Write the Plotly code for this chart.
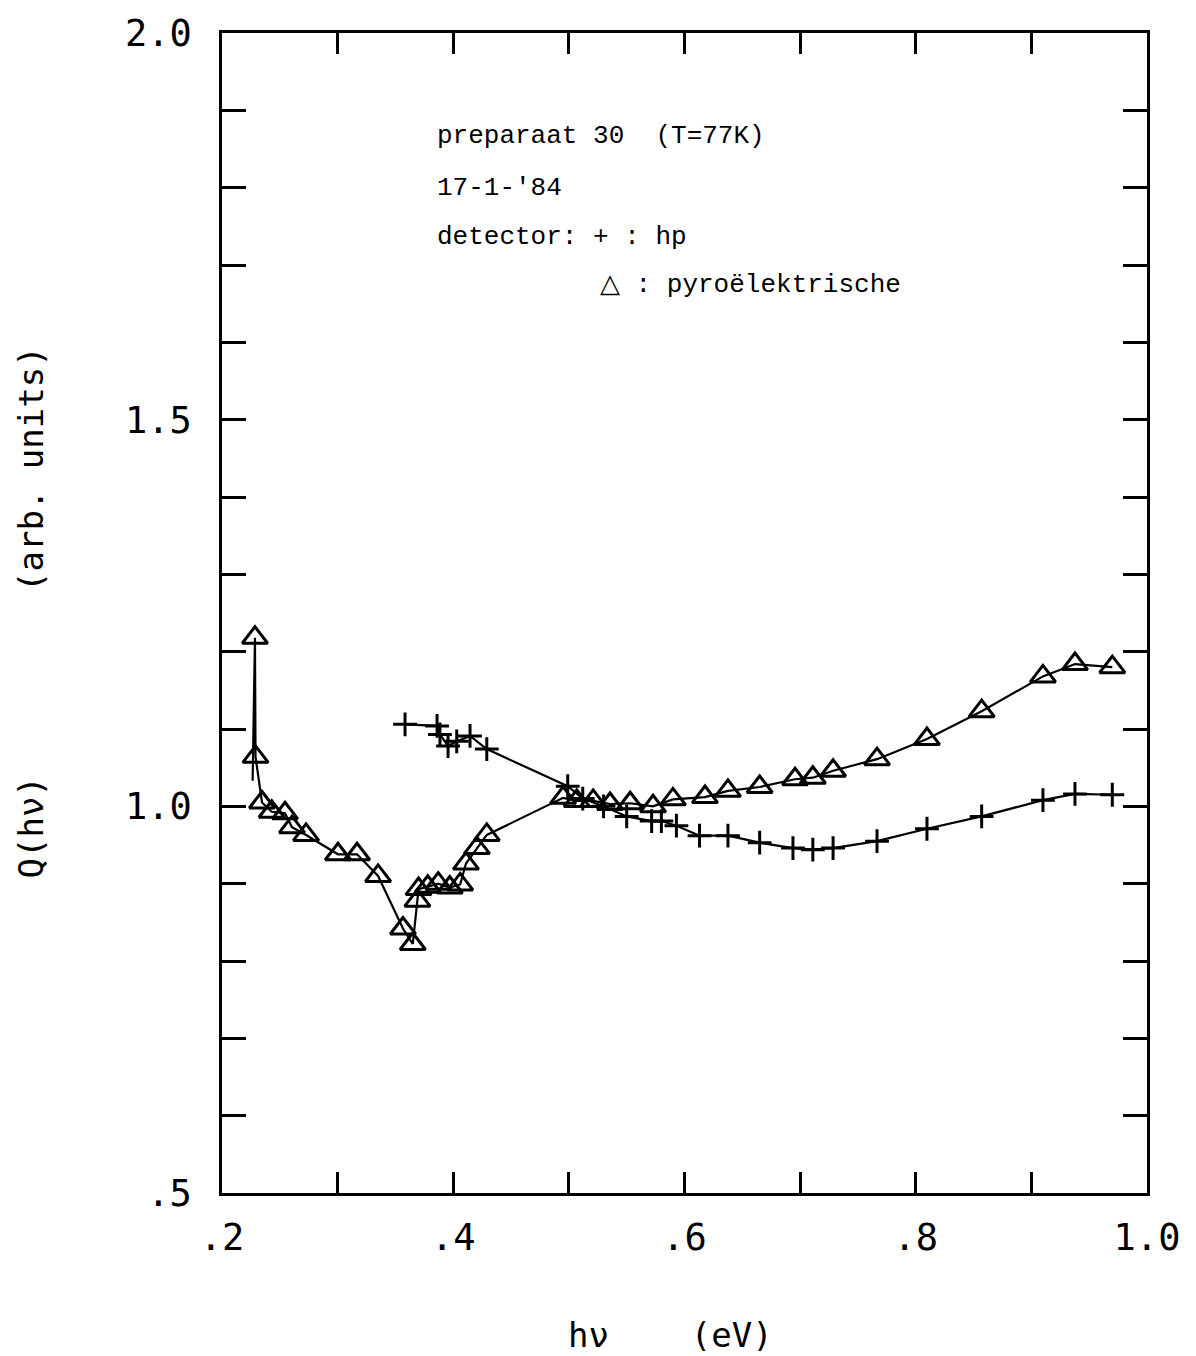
import plotly.graph_objects as go

# Pyroelectric detector series (triangles); first point drawn without marker
tri_x = [0.2265, 0.2285, 0.229, 0.2346, 0.243, 0.2545, 0.2605, 0.2727, 0.3003, 0.3168,
         0.335, 0.3565, 0.365, 0.369, 0.370, 0.378, 0.387, 0.397, 0.406, 0.411,
         0.4205, 0.429, 0.495, 0.5068, 0.521, 0.5356, 0.553, 0.5728, 0.590, 0.6177,
         0.6376, 0.665, 0.6956, 0.711, 0.7285, 0.7665, 0.8097, 0.857, 0.910, 0.9377, 0.970]
tri_y = [1.033, 1.218, 1.064, 1.005, 0.993, 0.991, 0.973, 0.963, 0.938, 0.938,
         0.910, 0.842, 0.822, 0.878, 0.893, 0.896, 0.900, 0.895, 0.899, 0.926,
         0.946, 0.963, 1.011, 1.007, 1.007, 1.003, 1.004, 1.000, 1.009, 1.012,
         1.020, 1.025, 1.035, 1.037, 1.046, 1.061, 1.087, 1.123, 1.168, 1.184, 1.180]

# hp detector series (plus signs)
hp_x = [0.3583, 0.386, 0.3885, 0.3955, 0.403, 0.4145, 0.429, 0.499, 0.512, 0.53,
        0.55, 0.5716, 0.580, 0.593, 0.613, 0.6376, 0.665, 0.6938, 0.711, 0.7285,
        0.7665, 0.8097, 0.857, 0.910, 0.9377, 0.970]
hp_y = [1.106, 1.104, 1.093, 1.078, 1.084, 1.091, 1.074, 1.026, 1.010, 1.000,
        0.987, 0.981, 0.981, 0.975, 0.962, 0.962, 0.953, 0.946, 0.944, 0.946,
        0.955, 0.971, 0.987, 1.008, 1.016, 1.015]

x_ticks = [0.2, 0.3, 0.4, 0.5, 0.6, 0.7, 0.8, 0.9, 1.0]
x_labels = [".2", "", ".4", "", ".6", "", ".8", "", "1.0"]
y_ticks = [0.5, 0.6, 0.7, 0.8, 0.9, 1.0, 1.1, 1.2, 1.3, 1.4, 1.5, 1.6, 1.7, 1.8, 1.9, 2.0]
y_labels = [".5", "", "", "", "", "1.0", "", "", "", "", "1.5", "", "", "", "", "2.0"]

notes = ["preparaat 30  (T=77K)", "17-1-'84", "detector: + : hp"]
note_tri = "\u25b3 : pyro\u00eblektrische"

tri_sizes = [0] + [22] * (len(tri_x) - 1)

fig = go.Figure()
fig.add_trace(go.Scatter(
    x=tri_x, y=tri_y, mode="lines+markers",
    line=dict(color="black", width=2.2),
    marker=dict(symbol="triangle-up-open", size=tri_sizes, color="black",
                opacity=1, line=dict(color="black", width=3)),
    showlegend=False))
fig.add_trace(go.Scatter(
    x=hp_x, y=hp_y, mode="lines+markers",
    line=dict(color="black", width=2.2),
    marker=dict(symbol="cross-thin-open", size=17, color="black",
                opacity=1, line=dict(color="black", width=3)),
    showlegend=False))

tick_font = dict(family="DejaVu Sans Mono", size=37, color="black")
fig.update_xaxes(range=[0.2, 1.0], tickvals=x_ticks, ticktext=x_labels,
                 ticks="inside", ticklen=21, tickwidth=2.5, tickcolor="black",
                 showline=True, linecolor="black", linewidth=2.5, mirror="allticks",
                 showgrid=False, zeroline=False, tickfont=tick_font,
                 ticklabelstandoff=10, ticklabeloverflow="allow")
fig.update_yaxes(range=[0.5, 2.0], tickvals=y_ticks, ticktext=y_labels,
                 ticks="inside", ticklen=24, tickwidth=2.5, tickcolor="black",
                 showline=True, linecolor="black", linewidth=2.5, mirror="allticks",
                 showgrid=False, zeroline=False, tickfont=tick_font,
                 ticklabelstandoff=20)

note_font = dict(family="Liberation Mono", size=26, color="black")
note_y = [1.867, 1.800, 1.736]
for txt, yy in zip(notes, note_y):
    fig.add_annotation(x=0.384, y=yy, xref="x", yref="y", text=txt, showarrow=False,
                       xanchor="left", yanchor="middle", font=note_font)
fig.add_annotation(x=0.525, y=1.674, xref="x", yref="y", text=note_tri, showarrow=False,
                   xanchor="left", yanchor="middle", font=note_font)

title_font = dict(family="DejaVu Sans Mono", size=34, color="black")
fig.add_annotation(x=-0.207, y=0.5, xref="paper", yref="paper",
                   text="Q(h\u03bd)" + "\u00a0" * 9 + "(arb." + "\u00a0" + "units)",
                   textangle=-90, showarrow=False, font=title_font,
                   xanchor="center", yanchor="middle")
fig.add_annotation(x=0.485, y=-0.122, xref="paper", yref="paper",
                   text="h\u03bd" + "\u00a0" * 4 + "(eV)",
                   showarrow=False, font=title_font,
                   xanchor="center", yanchor="middle")

fig.update_layout(width=1196, height=1356,
                  margin=dict(l=222, r=49, t=30, b=163),
                  plot_bgcolor="white", paper_bgcolor="white")

fig.write_html("out.html")
